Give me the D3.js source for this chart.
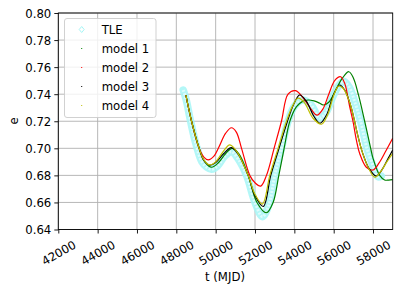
<!DOCTYPE html>
<html><head><meta charset="utf-8">
<script src="https://cdn.jsdelivr.net/npm/d3@7"></script>
<style>body{margin:0;background:#fff}svg{display:block}text{font-family:"DejaVu Sans",sans-serif;fill:#000}</style>
</head><body><svg id="c" width="399" height="291"></svg>
<script>
const xTicks = [42000,44000,46000,48000,50000,52000,54000,56000,58000];
const yTicks = [0.64,0.66,0.68,0.70,0.72,0.74,0.76,0.78,0.80];
const seriesNames = ["TLE","model 1","model 2","model 3","model 4"];

const tleT = [48350,48500,48725,49000,49300,49550,49790,50100,50450,50805,51150,51570,52000,52380,52700,53005,53345,53680,54000,54440,54850,55290,55600,55950,56250,56500,56800,57100,57370,57690,58000,58250,58420];
const tleE = [0.7431,0.736,0.720,0.703,0.690,0.686,0.6845,0.687,0.694,0.6975,0.692,0.680,0.660,0.6495,0.658,0.680,0.700,0.720,0.731,0.7357,0.732,0.7224,0.726,0.738,0.746,0.7495,0.745,0.733,0.720,0.700,0.687,0.679,0.6795];

const m1T = [48485,48775,49160,49450,49790,50150,50500,50840,51200,51650,52100,52580,52920,53210,53480,53770,54110,54400,54700,55000,55290,55460,55750,56100,56450,56770,57000,57250,57575,57880,58000,58340,58590,58800,59000];
const m1E = [0.7394,0.720,0.700,0.690,0.686,0.6895,0.696,0.700,0.6955,0.680,0.660,0.6524,0.660,0.680,0.700,0.720,0.7308,0.7345,0.7357,0.735,0.7333,0.732,0.734,0.743,0.752,0.7566,0.752,0.740,0.720,0.700,0.6926,0.680,0.6766,0.6765,0.6768];

const m2T = [48485,48775,49160,49400,49620,49900,50200,50500,50805,51050,51315,51735,52000,52290,52583,52970,53345,53680,54055,54530,54850,55150,55450,55750,56050,56350,56560,56810,56980,57155,57325,57660,58000,58300,58650,59000];
const m2E = [0.7394,0.720,0.700,0.6935,0.6914,0.694,0.702,0.711,0.7152,0.712,0.700,0.680,0.6745,0.6721,0.680,0.700,0.720,0.740,0.7426,0.7357,0.729,0.7245,0.729,0.740,0.750,0.7529,0.748,0.731,0.720,0.706,0.696,0.686,0.684,0.689,0.698,0.7074];

const m3T = [48485,48775,49160,49400,49700,50000,50400,50800,51150,51650,52000,52420,52800,53220,53650,53950,54270,54600,55000,55300,55650,55950,56300,56560,56810,57000,57200,57460,57800,58170,58450,58750,59000];
const m3E = [0.7394,0.720,0.700,0.691,0.6875,0.6895,0.696,0.7005,0.6955,0.680,0.665,0.657,0.680,0.700,0.720,0.732,0.7394,0.735,0.7235,0.7185,0.725,0.738,0.7468,0.743,0.734,0.724,0.711,0.697,0.685,0.6795,0.684,0.692,0.6988];

const m4T = [48485,48775,49160,49400,49700,50000,50350,50720,51100,51650,52000,52380,52752,53175,53600,53900,54180,54500,54950,55380,55700,56000,56250,56500,56810,57000,57200,57460,57800,58085,58400,58700,59000];
const m4E = [0.7394,0.720,0.700,0.6915,0.6877,0.690,0.697,0.7025,0.697,0.680,0.666,0.6588,0.680,0.700,0.720,0.731,0.737,0.734,0.7222,0.7178,0.725,0.739,0.746,0.744,0.734,0.724,0.711,0.697,0.6845,0.6786,0.683,0.690,0.6963];

const svg = d3.select("#c");
const L = 58.3, R = 392.7, T = 13, B = 229.5;
const x = d3.scaleLinear().domain([42000,59000]).range([L,R]);
const y = d3.scaleLinear().domain([0.64,0.80]).range([B,T]);
const fs = 11.7;

svg.append("defs").append("clipPath").attr("id","clip").append("rect")
  .attr("x",L).attr("y",T).attr("width",R-L).attr("height",B-T);

// grid
const g = svg.append("g");
g.selectAll(".gx").data(xTicks).join("line").attr("x1",d=>x(d)).attr("x2",d=>x(d)).attr("y1",T).attr("y2",B)
  .attr("stroke","#b0b0b0").attr("stroke-width",0.9);
g.selectAll(".gy").data(yTicks).join("line").attr("y1",d=>y(d)).attr("y2",d=>y(d)).attr("x1",L).attr("x2",R)
  .attr("stroke","#b0b0b0").attr("stroke-width",0.9);

const plot = svg.append("g").attr("clip-path","url(#clip)");
const line = (ts,es)=>d3.line().x((d,i)=>x(ts[i])).y((d,i)=>y(es[i])).curve(d3.curveCatmullRom.alpha(0.5))(ts);

// TLE band
plot.append("path").attr("d",line(tleT,tleE)).attr("fill","none").attr("stroke","#a6f6f6").attr("stroke-opacity",0.85)
  .attr("stroke-width",7.5).attr("stroke-linejoin","round").attr("stroke-linecap","round");
plot.append("path").attr("d",line(tleT,tleE)).attr("fill","none").attr("stroke","#e6fdfd").attr("stroke-opacity",0.85)
  .attr("stroke-width",3).attr("stroke-linejoin","round").attr("stroke-dasharray","2,1.5");

const models = [[m1T,m1E,"#008000"],[m2T,m2E,"#ff0000"],[m3T,m3E,"#000000"],[m4T,m4E,"#bfbf00"]];
models.forEach(([ts,es,c])=>{
  plot.append("path").attr("d",line(ts,es)).attr("fill","none").attr("stroke",c).attr("stroke-width",1.2);
});

// axes
const ax = svg.append("g").attr("transform",`translate(0,${B})`).call(d3.axisBottom(x).tickValues(xTicks).tickFormat(d3.format("d")).tickSize(4).tickPadding(3));
ax.select(".domain").remove();
ax.selectAll(".tick line").attr("stroke","#000").attr("stroke-width",0.9);
ax.selectAll(".tick text").attr("font-size",fs).attr("font-family","DejaVu Sans")
  .attr("text-anchor","middle").attr("dominant-baseline","central").attr("dy",null).attr("y",null)
  .attr("transform","translate(0,23.5) rotate(-30)");

const ay = svg.append("g").attr("transform",`translate(${L},0)`).call(d3.axisLeft(y).tickValues(yTicks).tickFormat(d3.format(".2f")).tickSize(4).tickPadding(3));
ay.select(".domain").remove();
ay.selectAll(".tick line").attr("stroke","#000").attr("stroke-width",0.9);
ay.selectAll(".tick text").attr("font-size",fs).attr("font-family","DejaVu Sans").attr("dy","0.35em");

svg.append("rect").attr("x",L).attr("y",T).attr("width",R-L).attr("height",B-T).attr("fill","none").attr("stroke","#000").attr("stroke-width",0.9);

svg.append("text").attr("x",225).attr("y",277).attr("text-anchor","middle").attr("dominant-baseline","central").attr("font-size",fs).text("t (MJD)");
svg.append("text").attr("transform","translate(13.5,121) rotate(-90)").attr("text-anchor","middle").attr("dominant-baseline","central").attr("font-size",fs).text("e");

// legend
const lg = svg.append("g");
lg.append("rect").attr("x",64.5).attr("y",18.5).attr("width",91.5).attr("height",99).attr("rx",2.5)
  .attr("fill","#fff").attr("fill-opacity",0.8).attr("stroke","#cccccc").attr("stroke-width",0.9);
const legColors = ["#9ff7f7","#008000","#ff0000","#000000","#bfbf00"];
seriesNames.forEach((n,i)=>{
  const yy = 29.5 + i*19;
  if(i===0){
    lg.append("path").attr("d",`M81.7,${yy-3}L84.2,${yy}L81.7,${yy+3}L79.2,${yy}Z`).attr("fill","none").attr("stroke","#a6f6f6").attr("stroke-width",1);
  } else {
    lg.append("rect").attr("x",81.2).attr("y",yy-0.5).attr("width",1).attr("height",1).attr("fill",legColors[i]);
  }
  lg.append("text").attr("x",101.7).attr("y",yy).attr("dominant-baseline","central").attr("font-size",fs).text(n);
});
</script></body></html>
